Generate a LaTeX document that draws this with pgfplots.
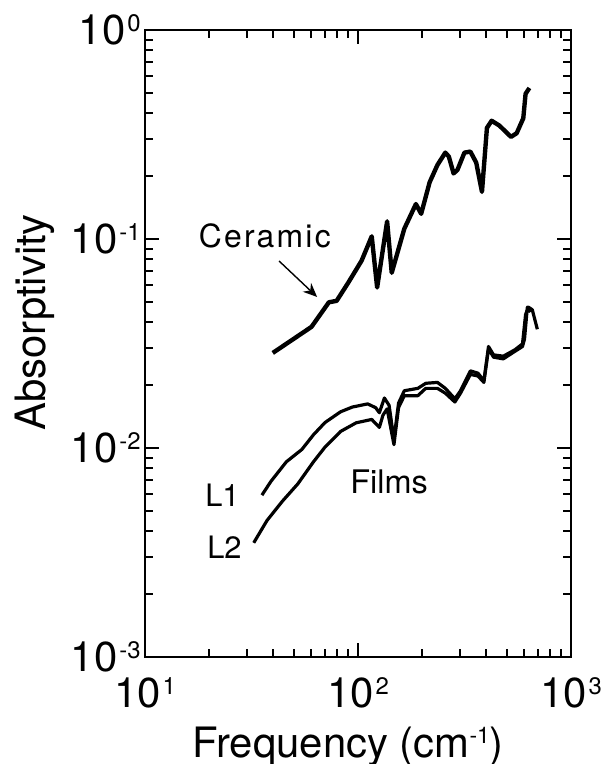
\documentclass[border=0pt]{standalone}
\usepackage{fontspec}
\setmainfont{TeX Gyre Heros}
\usepackage{pgfplots}
\pgfplotsset{compat=1.18}
\usetikzlibrary{arrows.meta}
\newcommand\tsup[1]{\hspace{1pt}\raisebox{6.5pt}{\fontsize{12}{12}\selectfont #1}}
\newcommand\lsup[1]{\raisebox{6.8pt}{\fontsize{11.5}{12}\selectfont #1}}

\begin{document}
\begin{tikzpicture}
\path[use as bounding box] (-72.5bp,-53.5bp) rectangle (232bp,328.5bp);
\begin{axis}[
  at={(0,0)}, anchor=south west,
  xmode=log, ymode=log,
  log basis x=10, log basis y=10,
  scale only axis,
  width=213bp, height=313.5bp,
  xmin=10, xmax=1000,
  ymin=1e-3, ymax=1,
  axis line style={line width=1.3pt},
  major tick length=7bp,
  minor tick length=4bp,
  tick style={black, line width=1pt},
  xticklabel={\pgfmathtruncatemacro\e{round(\tick)}10\tsup{\e}},
  yticklabel={\pgfmathtruncatemacro\e{round(\tick)}10\tsup{\e}},
  tick label style={font=\fontsize{21}{23}\selectfont, inner sep=1pt},
  xticklabel style={yshift=-9pt},
  yticklabel style={xshift=-1pt},
  label style={font=\fontsize{21}{24}\selectfont},
  xlabel={Frequency (cm\lsup{-1})},
  ylabel={Absorptivity},
  xlabel style={at={(axis description cs:0.4765,-0.1595)}, anchor=base},
  ylabel style={at={(axis description cs:-0.2347,0.5335)}, anchor=base},
  % inward tick marks on all four sides of the box
  extra description/.code={
    \foreach \d in {0,1}{\foreach \m in {2,...,9}{
      \pgfmathsetmacro\fx{(log10(\m)+\d)/2}
      \draw[line width=1pt] (axis description cs:\fx,0) -- (axis description cs:\fx,0.0128);
      \draw[line width=1pt] (axis description cs:\fx,1) -- (axis description cs:\fx,0.9872);
    }}
    \foreach \d in {0,1,2}{\foreach \m in {2,...,9}{
      \pgfmathsetmacro\fy{(log10(\m)+\d)/3}
      \draw[line width=1pt] (axis description cs:0,\fy) -- (axis description cs:0.0188,\fy);
      \draw[line width=1pt] (axis description cs:1,\fy) -- (axis description cs:0.9812,\fy);
    }}
    \draw[line width=1pt] (axis description cs:0.5,0) -- (axis description cs:0.5,0.0223);
    \draw[line width=1pt] (axis description cs:0.5,1) -- (axis description cs:0.5,0.9777);
    \foreach \fy in {0.33333,0.66667}{
      \draw[line width=1pt] (axis description cs:0,\fy) -- (axis description cs:0.0329,\fy);
      \draw[line width=1pt] (axis description cs:1,\fy) -- (axis description cs:0.9671,\fy);
    }
  },
]
% Ceramic
\addplot[black, line width=2.2pt, line join=round] coordinates {
  (39.8,0.0285) (60.5,0.038) (73,0.0498) (79.4,0.0506) (90,0.0618)
  (104,0.0788) (116,0.103) (123,0.0586) (137,0.1215) (144,0.0689)
  (165,0.112) (187,0.147) (198,0.132) (217,0.187) (236,0.226)
  (257,0.259) (267,0.248) (281,0.206) (293,0.214) (316,0.259)
  (337,0.262) (359,0.232) (382,0.168) (403,0.340) (424,0.368)
  (461,0.349) (523,0.308) (556,0.321) (597,0.378) (612,0.495) (638,0.528)
};
% Film L1
\addplot[black, line width=1.6pt, line join=round] coordinates {
  (35.4,0.00595) (39,0.00692) (46.1,0.00859) (54.5,0.00984) (61.8,0.01157)
  (70,0.01324) (82.8,0.0149) (94,0.0157) (111,0.01626) (121,0.0156)
  (126,0.01475) (133,0.01735) (140,0.016) (147.5,0.01096) (155,0.0164)
  (165,0.0188) (191,0.0193) (208,0.0204) (236,0.0206) (257,0.0193)
  (285,0.0172) (303,0.0188) (337,0.0234) (366,0.0228) (390,0.021)
  (410,0.0306) (433,0.0279) (481,0.0275) (545,0.0295) (592,0.0315)
  (612,0.0435) (631,0.0472) (658,0.0459) (695,0.037)
};
% Film L2
\addplot[black, line width=1.6pt, line join=round] coordinates {
  (32.4,0.00352) (37.4,0.0045) (44.2,0.00557) (52.2,0.00674) (61.8,0.00859)
  (70,0.0101) (82.8,0.0120) (98,0.0132) (116,0.0137) (126,0.01255)
  (131,0.01436) (137,0.0154) (147.5,0.01038) (155,0.0156) (165,0.0178)
  (191,0.0178) (208,0.0193) (236,0.0193) (257,0.0183) (285,0.0166)
  (303,0.0183) (337,0.0225) (366,0.0221) (390,0.0206) (410,0.0298)
  (433,0.0272) (481,0.0267) (545,0.029) (592,0.0306) (605,0.0332)
  (624,0.0472) (645,0.0447)
};
\node[font=\fontsize{16}{18}\selectfont\addfontfeature{LetterSpace=7}] at (axis cs:36.5,0.103) {Ceramic};
\draw[line width=0.7pt, -{Stealth[length=7bp, width=6bp]}] (axis cs:42.6,0.0785) -- (axis cs:64.3,0.0528);
\node[font=\fontsize{16.3}{18}\selectfont] at (axis cs:140,0.0069) {Films};
\node[font=\fontsize{15.5}{18}\selectfont] at (axis cs:23.1,0.00595) {L1};
\node[font=\fontsize{15.5}{18}\selectfont] at (axis cs:23.6,0.00334) {L2};
\end{axis}
\end{tikzpicture}
\end{document}
